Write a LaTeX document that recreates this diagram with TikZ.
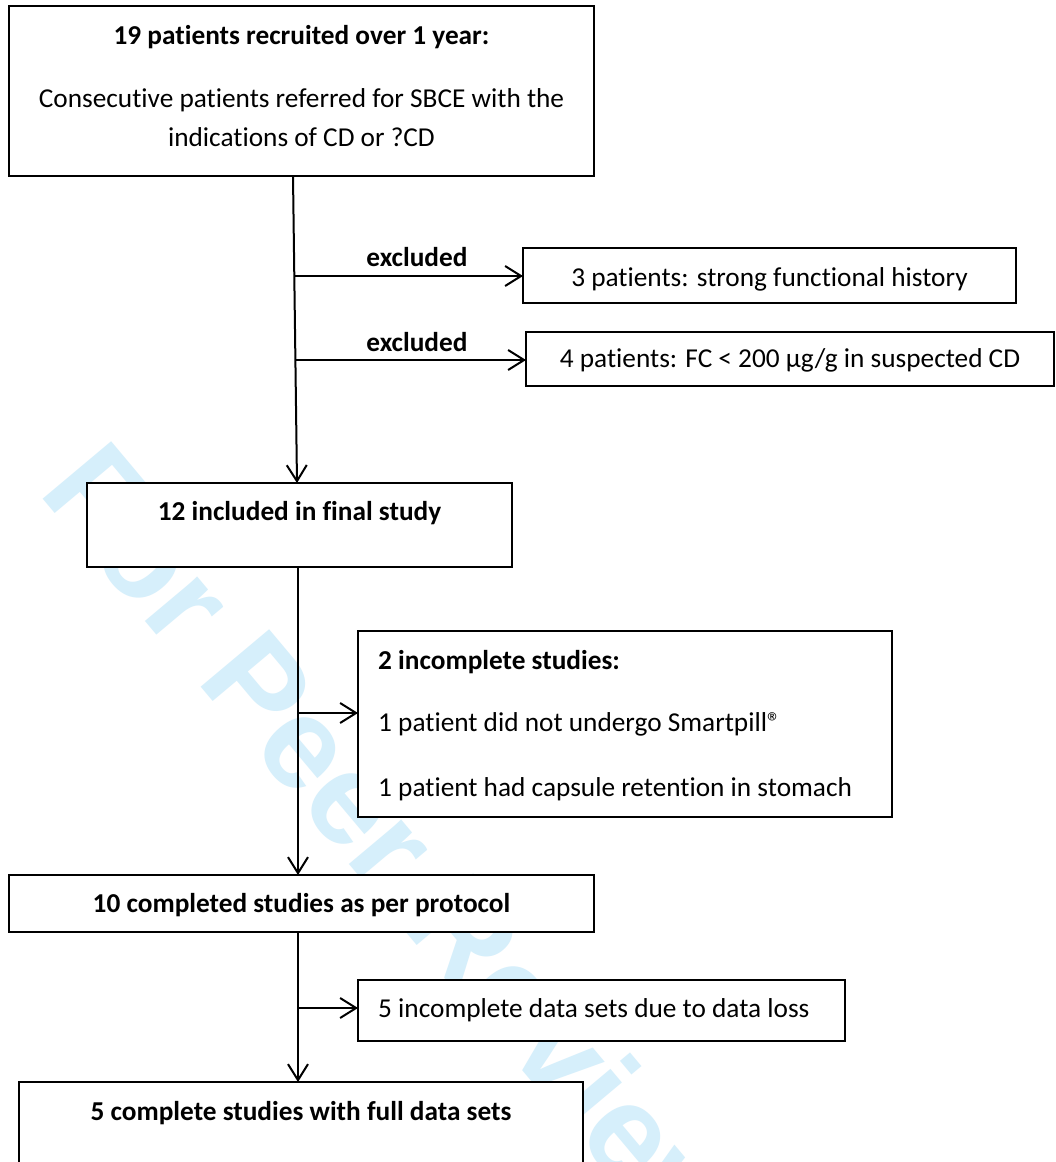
\documentclass[tikz,border=0pt]{standalone}
\usepackage{fontspec}
\setmainfont{Carlito}[Ligatures=NoCommon]
\newfontfamily\wmfont{Liberation Sans}
\usetikzlibrary{arrows.meta,calc}
\definecolor{wmblue}{RGB}{214,239,251}
\tikzset{
  box/.style={draw=black, fill=white, line width=1.5pt, inner sep=0pt, outer sep=0pt, anchor=north west},
  lbl/.style={font=\fontsize{27.3}{32}\selectfont, inner sep=0pt, anchor=base},
  lbll/.style={lbl, anchor=base west},
  blbl/.style={lbl, font=\fontsize{27.3}{32}\selectfont\bfseries},
  blbll/.style={blbl, anchor=base west},
  arr/.style={line width=2pt, -{Straight Barb[length=16pt,width=20pt]}},
  wm/.style={rotate=-50, font=\wmfont\bfseries\fontsize{130}{130}\selectfont, text=wmblue, inner sep=0pt}
}
\begin{document}
\begin{tikzpicture}[x=1pt,y=-1pt]
\path[use as bounding box] (0,0) rectangle (1055,1162);
\clip (0,0) rectangle (1055,1162);
\fill[white] (0,0) rectangle (1055,1162);
% watermark
\node[wm] (wmark) at (398,850) {For Peer Review};
% boxes
\node[box, minimum width=585, minimum height=170] (b1) at (9,6) {};
\node[box, minimum width=493, minimum height=55] (b3) at (523,248) {};
\node[box, minimum width=528, minimum height=54] (b4) at (526,332) {};
\node[box, minimum width=425, minimum height=84] (b12) at (87,483) {};
\node[box, minimum width=534, minimum height=186] (b2) at (358,631) {};
\node[box, minimum width=585, minimum height=57] (b10) at (9,875) {};
\node[box, minimum width=487, minimum height=61] (b5i) at (358,980) {};
\node[box, minimum width=564, minimum height=110] (b5) at (19,1082) {};
% texts
\node[blbl] (t1a) at (301.5,44) {19 patients recruited over 1 year:};
\node[lbl] (t1b) at (301.5,107) {Consecutive patients referred for SBCE with the};
\node[lbl] (t1c) at (301.5,146) {indications of CD or ?CD};
\node[blbl] (ex1) at (417,266) {excluded};
\node[blbl] (ex2) at (417,351) {excluded};
\node[lbl] (t3) at (769.5,286) {3 patients: strong functional history};
\node[lbl] (t4) at (790,367) {4 patients: FC < 200 µg/g in suspected CD};
\node[blbl] (t12) at (299.5,520) {12 included in final study};
\node[blbll] (t2a) at (378,669) {2 incomplete studies:};
\node[lbll] (t2b) at (378,731) {1 patient did not undergo Smartpill®};
\node[lbll] (t2c) at (378,796) {1 patient had capsule retention in stomach};
\node[blbl] (t10) at (301.5,912) {10 completed studies as per protocol};
\node[lbll] (t5i) at (378,1017) {5 incomplete data sets due to data loss};
\node[blbl] (t5) at (301,1120) {5 complete studies with full data sets};
% connectors
\coordinate (j1) at (294.3,276);
\coordinate (j2) at (295.4,360);
\coordinate (j3) at (298,713);
\coordinate (j4) at (298,1008);
\draw[arr] ($(b1.south west)+(284,0)$) -- ($(b12.north west)+(210,0)$);
\draw[arr] (j1) -- (j1 -| b3.west);
\draw[arr] (j2) -- (j2 -| b4.west);
\draw[arr] ($(b12.south west)+(211,0)$) -- ($(b10.north west)+(289,0)$);
\draw[arr] (j3) -- (j3 -| b2.west);
\draw[arr] ($(b10.south west)+(289,0)$) -- ($(b5.north west)+(279,0)$);
\draw[arr] (j4) -- (j4 -| b5i.west);
\end{tikzpicture}
\end{document}
